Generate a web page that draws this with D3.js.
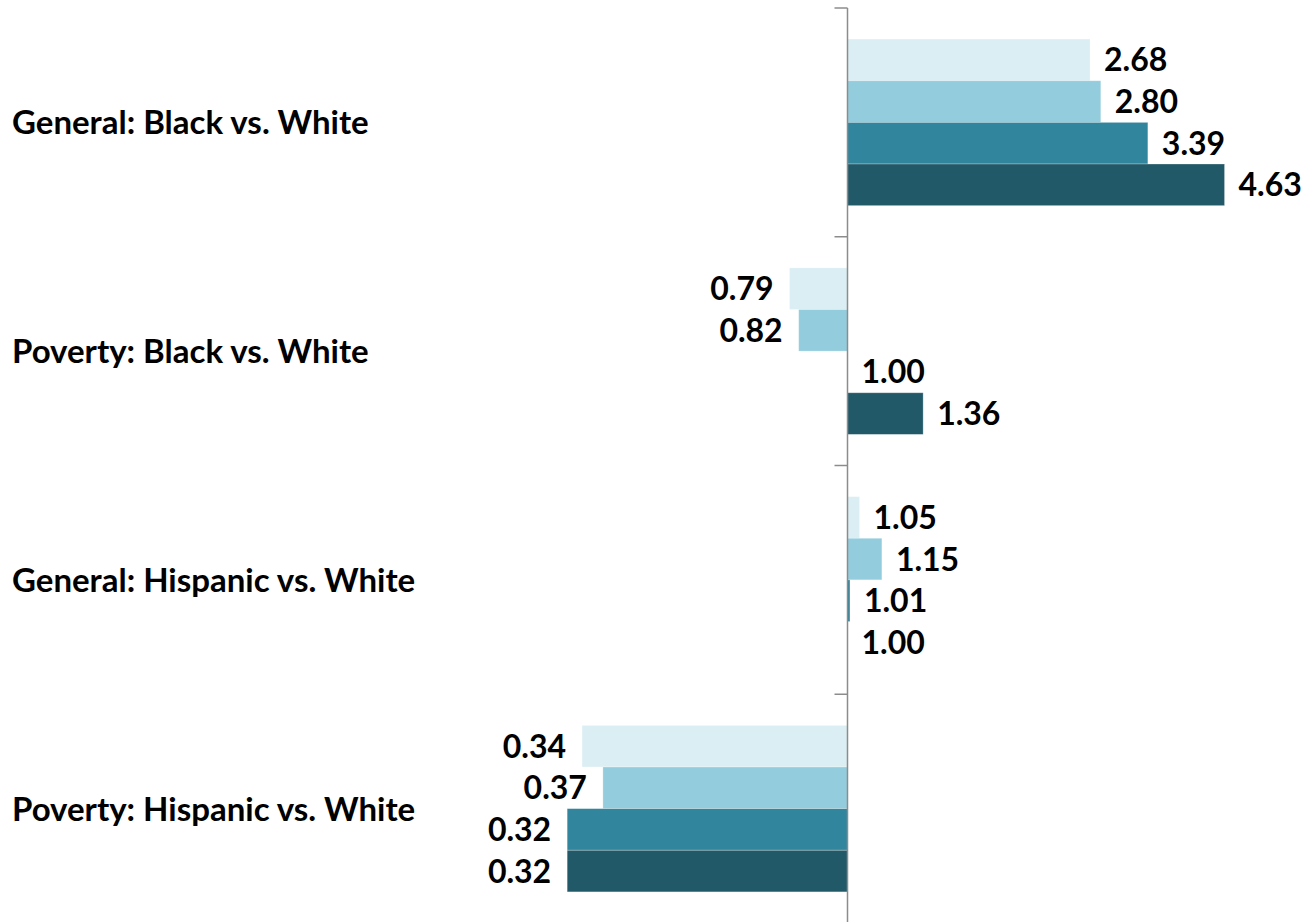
<!DOCTYPE html>
<html>
<head>
<meta charset="utf-8">
<script src="https://cdn.jsdelivr.net/npm/d3@7"></script>
<style>
  html, body { margin: 0; padding: 0; background: #fff; }
  svg { display: block; }
  text { font-family: Lato, "Open Sans", sans-serif; font-weight: 700; fill: #000; }
</style>
</head>
<body>
<svg id="chart" width="1309" height="922"></svg>
<script>
// ---- data ----
const categories = [
  "General: Black vs. White",
  "Poverty: Black vs. White",
  "General: Hispanic vs. White",
  "Poverty: Hispanic vs. White"
];
const seriesNames = ["Series 1", "Series 2", "Series 3", "Series 4"];
const series1 = [2.68, 0.79, 1.05, 0.34];
const series2 = [2.80, 0.82, 1.15, 0.37];
const series3 = [3.39, 1.00, 1.01, 0.32];
const series4 = [4.63, 1.36, 1.00, 0.32];
const seriesValues = [series1, series2, series3, series4];
const colors = ["#DBEEF3", "#93CDDD", "#31859C", "#215968"];

// ---- layout ----
const svg = d3.select("#chart");
const axisX = 847.5;
const pxPerDecade = 566.5;
const topY = 8, bottomY = 923;

const x = d3.scaleLog()
  .domain([0.25, 5])
  .range([axisX + pxPerDecade * Math.log10(0.25), axisX + pxPerDecade * Math.log10(5)]);

const y = d3.scaleBand()
  .domain(categories)
  .range([topY, bottomY])
  .paddingInner(0.272)
  .paddingOuter(0.136);

const y1 = d3.scaleBand()
  .domain(seriesNames)
  .range([0, y.bandwidth()]);

const rows = [];
categories.forEach((c, ci) => {
  seriesNames.forEach((s, si) => {
    rows.push({ cat: c, series: s, si, value: seriesValues[si][ci] });
  });
});

// bars
svg.append("g").selectAll("rect")
  .data(rows)
  .join("rect")
  .attr("x", d => Math.min(x(d.value), x(1)))
  .attr("y", d => y(d.cat) + y1(d.series))
  .attr("width", d => Math.abs(x(d.value) - x(1)))
  .attr("height", y1.bandwidth())
  .attr("fill", d => colors[d.si])
  .attr("stroke", "rgba(255,255,255,0.35)")
  .attr("stroke-width", 0.8);

// value labels
svg.append("g").selectAll("text")
  .data(rows)
  .join("text")
  .attr("x", d => d.value < 1 ? x(d.value) - 16 : x(d.value) + 14)
  .attr("y", d => y(d.cat) + y1(d.series) + y1.bandwidth() / 2)
  .attr("dy", "0.36em")
  .attr("text-anchor", d => d.value < 1 ? "end" : "start")
  .style("font-size", "32px")
  .text(d => d.value.toFixed(2));

// axis (vertical line at 1.0 with category ticks)
const sectionH = (bottomY - topY) / categories.length;
const tickYs = d3.range(categories.length + 1).map(i => topY + i * sectionH);
const axisG = svg.append("g");
axisG.append("line")
  .attr("x1", x(1)).attr("x2", x(1))
  .attr("y1", topY).attr("y2", bottomY)
  .attr("stroke", "#8c8c8c").attr("stroke-width", 1.5);
axisG.selectAll("line.tick")
  .data(tickYs)
  .join("line")
  .attr("class", "tick")
  .attr("x1", x(1) - 13).attr("x2", x(1))
  .attr("y1", d => d).attr("y2", d => d)
  .attr("stroke", "#8c8c8c").attr("stroke-width", 1.5);

// category labels
svg.append("g").selectAll("text")
  .data(categories)
  .join("text")
  .attr("x", 12)
  .attr("y", (d, i) => topY + i * sectionH + sectionH / 2)
  .attr("dy", "0.36em")
  .style("font-size", "33px")
  .text(d => d);
</script>
</body>
</html>
